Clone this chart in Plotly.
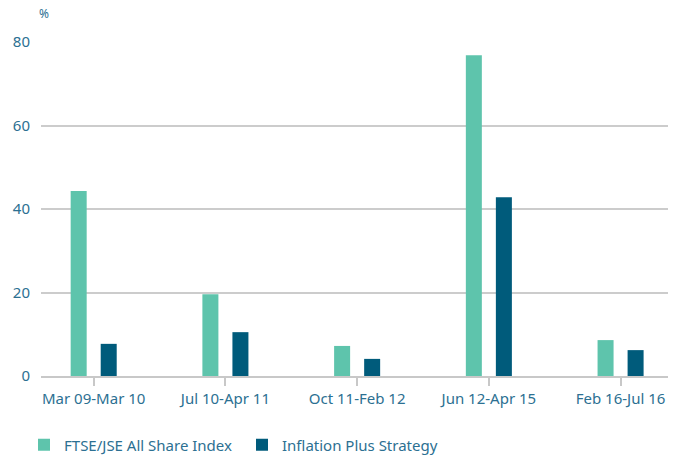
import plotly.graph_objects as go

categories = ["Mar 09-Mar 10", "Jul 10-Apr 11", "Oct 11-Feb 12", "Jun 12-Apr 15", "Feb 16-Jul 16"]
ftse_jse = [44.3, 19.6, 7.2, 76.8, 8.6]
inflation_plus = [7.7, 10.5, 4.1, 42.8, 6.2]
y_ticks = [0, 20, 40, 60, 80]

TEXT = "#2c7092"
FONT = "Noto Sans, sans-serif"

fig = go.Figure()
fig.add_trace(go.Bar(x=categories, y=ftse_jse, name="FTSE/JSE All Share Index",
                     marker=dict(color="#5ec4ac", line=dict(width=0))))
fig.add_trace(go.Bar(x=categories, y=inflation_plus, name="Inflation Plus Strategy",
                     marker=dict(color="#005b7b", line=dict(width=0))))

fig.update_layout(
    width=678, height=457,
    margin=dict(l=41, r=10, t=42, b=81, autoexpand=False),
    paper_bgcolor="white", plot_bgcolor="white",
    barmode="group", bargap=0.544, bargroupgap=0.467,
    font=dict(family=FONT, size=14, color=TEXT),
    showlegend=True,
    legend=dict(orientation="h", xref="container", yref="container",
                x=0.0354, y=0.026, xanchor="left", yanchor="middle",
                font=dict(size=15, color=TEXT), itemwidth=30, entrywidth=173,
                traceorder="normal"),
    xaxis=dict(range=[-0.40, 4.36], automargin=False, showgrid=False, showline=True,
               linecolor="#c8c8c8", linewidth=2, ticks="outside", ticklen=8,
               tickcolor="#c8c8c8", tickwidth=1.5, tickfont=dict(size=15, color=TEXT)),
    yaxis=dict(range=[0, 80], automargin=False, tickvals=y_ticks, showgrid=True,
               gridcolor="#cccccc", gridwidth=1.5, zeroline=False, showline=False, ticks="",
               ticklabelstandoff=10, tickfont=dict(size=15, color=TEXT)),
    annotations=[dict(text="%", x=0, xref="paper", xanchor="left", xshift=-4,
                      y=1, yref="paper", yanchor="bottom", yshift=18, showarrow=False,
                      font=dict(size=12, color=TEXT))],
)

fig.write_html("out.html", post_script="document.body.style.margin='0';",
               config={"displayModeBar": False})
